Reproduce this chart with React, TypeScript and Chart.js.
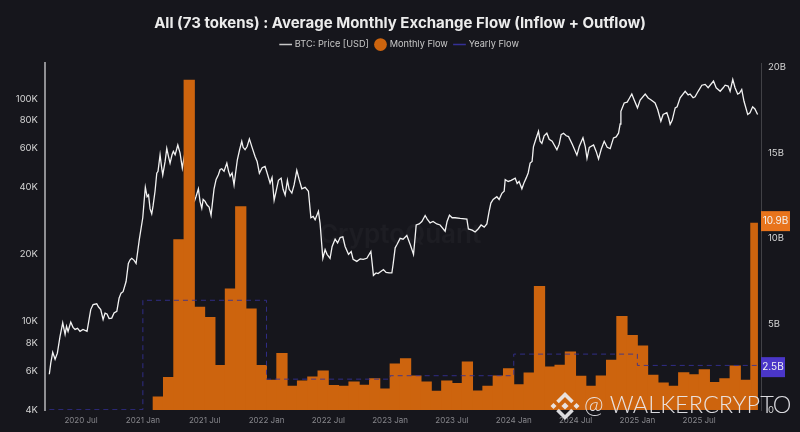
import React, { useEffect, useRef } from "react";
import { Chart, registerables } from "chart.js";

Chart.register(...registerables);

const titleText = "All (73 tokens) : Average Monthly Exchange Flow (Inflow + Outflow)";
const seriesNames = ["BTC: Price [USD]", "Monthly Flow", "Yearly Flow"];
const xTickLabels = ["2020 Jul", "2021 Jan", "2021 Jul", "2022 Jan", "2022 Jul", "2023 Jan", "2023 Jul", "2024 Jan", "2024 Jul", "2025 Jan", "2025 Jul"];
const leftTicks = [4000, 6000, 8000, 10000, 20000, 40000, 60000, 80000, 100000];
const rightTicks = [0, 5e9, 10e9, 15e9, 20e9];

// Months since Jan 2020 (fractional) and BTC price in thousands of USD
const priceMonth = [2.92,3.06,3.25,3.48,3.7,3.96,4.22,4.45,4.59,4.74,5,5.22,5.42,5.66,5.9,6.19,6.58,6.94,7.17,7.52,7.7,7.91,8.14,8.33,8.52,8.72,8.98,9.2,9.47,9.69,9.88,10.08,10.37,10.59,10.76,10.92,11.15,11.34,11.66,11.99,12.12,12.24,12.41,12.55,12.7,12.86,12.99,13.18,13.35,13.47,13.67,13.81,13.93,14.16,14.32,14.5,14.64,14.83,14.96,15.13,15.39,15.61,15.83,16.1,16.29,16.49,16.75,17,17.17,17.39,17.55,17.72,17.85,18.04,18.23,18.43,18.62,18.77,18.91,19.11,19.33,19.5,19.66,19.88,20.15,20.32,20.47,20.66,20.85,21,21.17,21.39,21.6,21.73,21.92,22.12,22.34,22.6,22.89,23.09,23.31,23.58,23.86,24.06,24.35,24.54,24.74,24.93,25.16,25.42,25.61,25.81,26.03,26.2,26.46,26.68,26.94,27.17,27.43,27.75,28.07,28.31,28.53,28.72,29.04,29.2,29.47,29.69,29.88,30.17,30.37,30.66,30.9,31.15,31.41,31.63,31.96,32.22,32.41,32.77,33.1,33.39,33.74,34.13,34.26,34.38,34.64,34.83,35.13,35.35,35.61,35.9,36.17,36.3,36.49,36.68,36.97,37.26,37.62,37.94,38.09,38.27,38.43,38.53,38.82,39.08,39.4,39.6,39.88,40.17,40.53,40.85,41.34,41.53,41.76,42.02,42.31,42.8,43.45,43.6,43.96,44.25,44.54,44.83,45.13,45.39,45.61,45.78,46,46.36,46.58,46.85,47.07,47.17,47.46,47.75,48.14,48.33,48.52,48.79,49.01,49.2,49.4,49.59,49.78,49.91,50.08,50.4,50.56,50.73,50.95,51.21,51.44,51.73,52.19,52.41,52.6,52.83,53.1,53.32,53.68,54.13,54.36,54.72,54.94,55.11,55.33,55.75,56,56.23,56.49,56.78,57.07,57.36,57.68,57.94,58.17,58.33,58.4,58.72,59.01,59.2,59.46,59.69,60.01,60.27,60.76,61.05,61.34,61.72,61.97,62.28,62.5,62.86,63.04,63.18,63.38,63.67,63.86,64.15,64.64,64.93,65.12,65.41,65.6,65.9,66.26,66.58,66.87,67.39,67.65,68.04,68.33,68.52,68.81,69,69.26,69.48,69.74,69.92,70.13,70.35,70.71,70.93,71.19,71.41,71.67];
const priceK = [5.79,6.5,7.26,6.76,7.2,8.57,9.85,8.75,9.5,9.02,9.93,9.4,9.2,9.3,9.02,9.2,9.02,11.3,11.9,12,11.6,11.3,10.2,10.9,10.8,10.3,10.35,10.9,11.1,12.7,13.4,13.6,15.1,18.2,18.9,19.2,18.8,18.2,23.4,29.2,34.6,40,36.3,37,32,30.4,33,38.4,46.3,47.2,56,49.5,45.5,52.3,59.8,54.7,51.4,56,58,56,62,57,48.8,58,49.7,42.5,35.5,34.6,36.5,39.4,34.6,32.2,35.3,34.6,33.3,32.6,30,34.6,39.4,43.4,45.6,48.1,48.5,47.2,51.4,47.2,44.9,46.4,41,46.4,53.2,59,64.4,60.5,59,61,66,60.5,55,52.3,46.3,49,49.7,46.4,41.8,44.3,35,38.4,43,44,39.2,36.9,43,39.2,37.7,41,47.7,43.4,39.4,40,38.4,29.2,29.6,28.6,31.2,27.6,19.2,21,20,19.2,21.7,23.4,22.5,23.8,24,21.7,20,20.6,19,18.6,19.1,19,19.2,20.6,18.2,16.1,16.5,16.4,16.8,17.1,16.6,16.5,16.5,18.2,21.4,22.2,23.6,23.4,24.3,22.2,21.2,20,24,27.1,27.4,28.1,29.9,28.8,27.7,28.1,27.4,27.1,25.4,28.1,30,29.2,29.2,29,28.8,26,25.7,25.2,26,27.1,26.5,27.4,31.2,34,35.3,36.3,35.3,37.6,38.4,43.3,42.5,43,44,41.6,42.5,39.4,42.1,44,46.4,51.4,52.3,60.8,64.4,71.4,64.4,63,68.2,70,65.7,64.4,59,62.5,69,70,68.2,67.6,62.5,55.8,61,66.8,61,54,60.5,62,58,53.7,59.3,64.4,60.5,59.7,66.7,67.4,70,77,87.8,95.7,96.5,100,105,98.7,91,98.7,105,100.8,98.7,95.7,89.5,79.2,85,86.5,81.7,76.7,80,91,92,101,108,104,105,101,102,108,115,116,112,120,112,108,112,115,114,108,122,112,105,106,110,97.4,85,86.5,92,90,85];

const monthlyLabels = ["2021-02","2021-03","2021-04","2021-05","2021-06","2021-07","2021-08","2021-09","2021-10","2021-11","2021-12","2022-01","2022-02","2022-03","2022-04","2022-05","2022-06","2022-07","2022-08","2022-09","2022-10","2022-11","2022-12","2023-01","2023-02","2023-03","2023-04","2023-05","2023-06","2023-07","2023-08","2023-09","2023-10","2023-11","2023-12","2024-01","2024-02","2024-03","2024-04","2024-05","2024-06","2024-07","2024-08","2024-09","2024-10","2024-11","2024-12","2025-01","2025-02","2025-03","2025-04","2025-05","2025-06","2025-07","2025-08","2025-09","2025-10","2025-11"];
const monthlyFlowB = [0.77,1.9,9.94,19.25,6,5.4,2.6,7.07,11.86,5.9,2.6,1.74,3.3,1.4,1.7,1.94,2.29,1.44,1.4,1.65,1.45,1.84,1.24,2.7,3,2,1.65,1.1,1.7,1.55,2.81,1.12,1.4,2,2.42,1.49,2.17,7.21,2.52,2.62,3.39,1.98,1.4,2,2.91,5.46,4.36,3.74,2.03,1.59,1.4,2.19,2.07,2.36,1.61,1.84,2.58,1.75];
const currentMonthX = 71.33;
const currentMonthFlowB = 10.9;

const yearlyMonth = [2.92, 12, 24, 36, 48, 60, 71.67];
const yearlyFlowB = [0.02, 6.4, 1.8, 2.0, 3.26, 2.6, 2.6];
const lastYearlyTag = 2.5;

const monthIndex = (s: string) => {
  const [y, m] = s.split("-").map(Number);
  return (y - 2020) * 12 + m - 1;
};
const tickMonth = (s: string) => {
  const [y, m] = s.split(" ");
  return (Number(y) - 2020) * 12 + (m === "Jul" ? 6 : 0);
};

const BG = "#16161c";
const FONT = "Inter, 'Noto Sans', sans-serif";

const overlay = {
  id: "overlay",
  beforeLayout(chart: any) {
    const legend = chart.legend;
    if (legend && !legend.__extended) {
      const fit = legend.fit;
      legend.fit = function () {
        fit.call(this);
        this.height += 4;
      };
      legend.__extended = true;
    }
  },
  afterDraw(chart: any) {
    const { ctx, scales } = chart;
    const r = scales.yR;
    const tag = (text: string, v: number, fill: string, w: number, dy: number) => {
      const y = r.getPixelForValue(v) + dy;
      ctx.save();
      ctx.fillStyle = fill;
      ctx.fillRect(761, y - 10, w, 20);
      ctx.fillStyle = "#f2f2f2";
      ctx.font = `10px ${FONT}`;
      ctx.textAlign = "center";
      ctx.textBaseline = "middle";
      ctx.fillText(text, 761 + w / 2, y);
      ctx.restore();
    };
    tag("10.9B", currentMonthFlowB * 1e9, "#e8741c", 29, -2);
    tag("2.5B", lastYearlyTag * 1e9, "#4a36c8", 24, 0);

    ctx.save();
    // faint source watermark
    ctx.fillStyle = "rgba(255,255,255,0.03)";
    ctx.font = `600 26px ${FONT}`;
    ctx.textAlign = "center";
    ctx.textBaseline = "middle";
    ctx.fillText("CryptoQuant", 400, 235);
    // author watermark
    ctx.fillStyle = "rgba(235,235,240,0.92)";
    ctx.strokeStyle = "rgba(235,235,240,0.92)";
    const diamond = (cx: number, cy: number, s: number) => {
      ctx.beginPath();
      ctx.moveTo(cx, cy - s);
      ctx.lineTo(cx + s, cy);
      ctx.lineTo(cx, cy + s);
      ctx.lineTo(cx - s, cy);
      ctx.closePath();
      ctx.fill();
    };
    const chevron = (cx: number, cy: number, s: number, dir: number) => {
      ctx.beginPath();
      ctx.moveTo(cx - s, cy + dir * s);
      ctx.lineTo(cx, cy);
      ctx.lineTo(cx + s, cy + dir * s);
      ctx.lineWidth = 3.6;
      ctx.stroke();
    };
    diamond(565, 406, 3.6);
    diamond(553.5, 406, 3);
    diamond(576.5, 406, 3);
    chevron(565, 394.5, 7.5, 1);
    chevron(565, 417.5, 7.5, -1);
    ctx.font = `300 23.5px Lato, ${FONT}`;
    ctx.textAlign = "left";
    ctx.fillText("@ WALKERCRYPTO", 584, 405);
    ctx.restore();
  },
};

export default function App() {
  const ref = useRef<HTMLCanvasElement>(null);
  useEffect(() => {
    document.body.style.margin = "0";
    document.body.style.background = BG;
    const canvas = ref.current!;
    const barColor = "rgb(205,100,14)";
    const chart = new Chart(canvas, {
      type: "bar",
      data: {
        datasets: [
          {
            type: "line",
            label: seriesNames[0],
            data: priceMonth.map((x, i) => ({ x, y: priceK[i] * 1000 })),
            yAxisID: "yL",
            borderColor: "#f2f2f2",
            borderWidth: 1.3,
            pointRadius: 0,
            tension: 0,
            order: 3,
          },
          {
            type: "bar",
            label: seriesNames[1],
            data: monthlyLabels.map((m, i) => ({ x: monthIndex(m) + 0.5, y: monthlyFlowB[i] * 1e9 })),
            yAxisID: "yR",
            backgroundColor: barColor,
            borderWidth: 0,
            barThickness: 10.6,
            grouped: false,
            order: 2,
          },
          {
            type: "bar",
            label: "current",
            data: [{ x: currentMonthX, y: currentMonthFlowB * 1e9 }],
            yAxisID: "yR",
            backgroundColor: barColor,
            barThickness: 7,
            grouped: false,
            order: 2,
          },
          {
            type: "line",
            label: seriesNames[2],
            data: yearlyMonth.map((x, i) => ({ x, y: yearlyFlowB[i] * 1e9 })),
            yAxisID: "yR",
            borderColor: "rgba(52,48,150,0.85)",
            borderWidth: 1,
            borderDash: [5, 4],
            pointRadius: 0,
            stepped: "before",
            order: 1,
          },
        ] as any,
      },
      options: {
        animation: false,
        responsive: false,
        layout: { padding: 0 },
        plugins: {
          title: {
            display: true,
            text: titleText,
            color: "#ececec",
            font: { family: FONT, size: 15, weight: "bold" },
            padding: { top: 14, bottom: 1 },
          },
          legend: {
            display: true,
            position: "top",
            labels: {
              color: "#c8c8c8",
              font: { family: FONT, size: 9.2 },
              usePointStyle: true,
              padding: 7,
              boxHeight: 9,
              generateLabels: () => [
                { text: seriesNames[0], fillStyle: "#f2f2f2", strokeStyle: "#c8c8c8", lineWidth: 1.5, pointStyle: "line", fontColor: "#c8c8c8" },
                { text: seriesNames[1], fillStyle: "#cd640e", strokeStyle: "#cd640e", lineWidth: 0, pointStyle: "circle", fontColor: "#c8c8c8" },
                { text: seriesNames[2], fillStyle: "#343096", strokeStyle: "#343096", lineWidth: 1.5, pointStyle: "line", fontColor: "#c8c8c8" },
              ],
            },
          },
          tooltip: { enabled: false },
        },
        scales: {
          x: {
            type: "linear",
            offset: false,
            min: 2.5,
            max: 72,
            afterFit: (s: any) => { s.height = 22; },
            afterBuildTicks: (s: any) => { s.ticks = xTickLabels.map((l) => ({ value: tickMonth(l) })); },
            grid: { display: false, drawTicks: false, offset: false },
            border: { display: false },
            ticks: {
              color: "#85858a",
              font: { family: FONT, size: 8 },
              padding: 6,
              maxRotation: 0,
              autoSkip: false,
              callback: (v: any) => xTickLabels.find((l) => tickMonth(l) === v) ?? "",
            },
          },
          yL: {
            type: "logarithmic",
            position: "left",
            min: 4000,
            max: 144400,
            afterFit: (s: any) => { s.width = 45; },
            afterBuildTicks: (s: any) => { s.ticks = leftTicks.map((value) => ({ value })); },
            grid: { display: false, drawTicks: false },
            border: { display: true, color: "#8f8f93", width: 2 },
            ticks: {
              color: "#d4d4d4",
              font: { family: FONT, size: 9.5 },
              padding: 7,
              autoSkip: false,
              callback: (v: any) => `${Number(v) / 1000}K`,
            },
          },
          yR: {
            type: "linear",
            position: "right",
            min: 0,
            max: 20.23e9,
            afterFit: (s: any) => { s.width = 39; },
            afterBuildTicks: (s: any) => { s.ticks = rightTicks.map((value) => ({ value })); },
            grid: { display: false, drawTicks: false },
            border: { display: true, color: "#414146", width: 1 },
            ticks: {
              color: "#d4d4d4",
              font: { family: FONT, size: 9.5 },
              padding: 7,
              autoSkip: false,
              callback: (v: any) => (Number(v) === 0 ? "0" : `${Number(v) / 1e9}B`),
            },
          },
        },
      } as any,
      plugins: [overlay],
    });
    return () => chart.destroy();
  }, []);
  return <canvas ref={ref} width={800} height={432} style={{ display: "block", width: 800, height: 432, background: BG }} />;
}
